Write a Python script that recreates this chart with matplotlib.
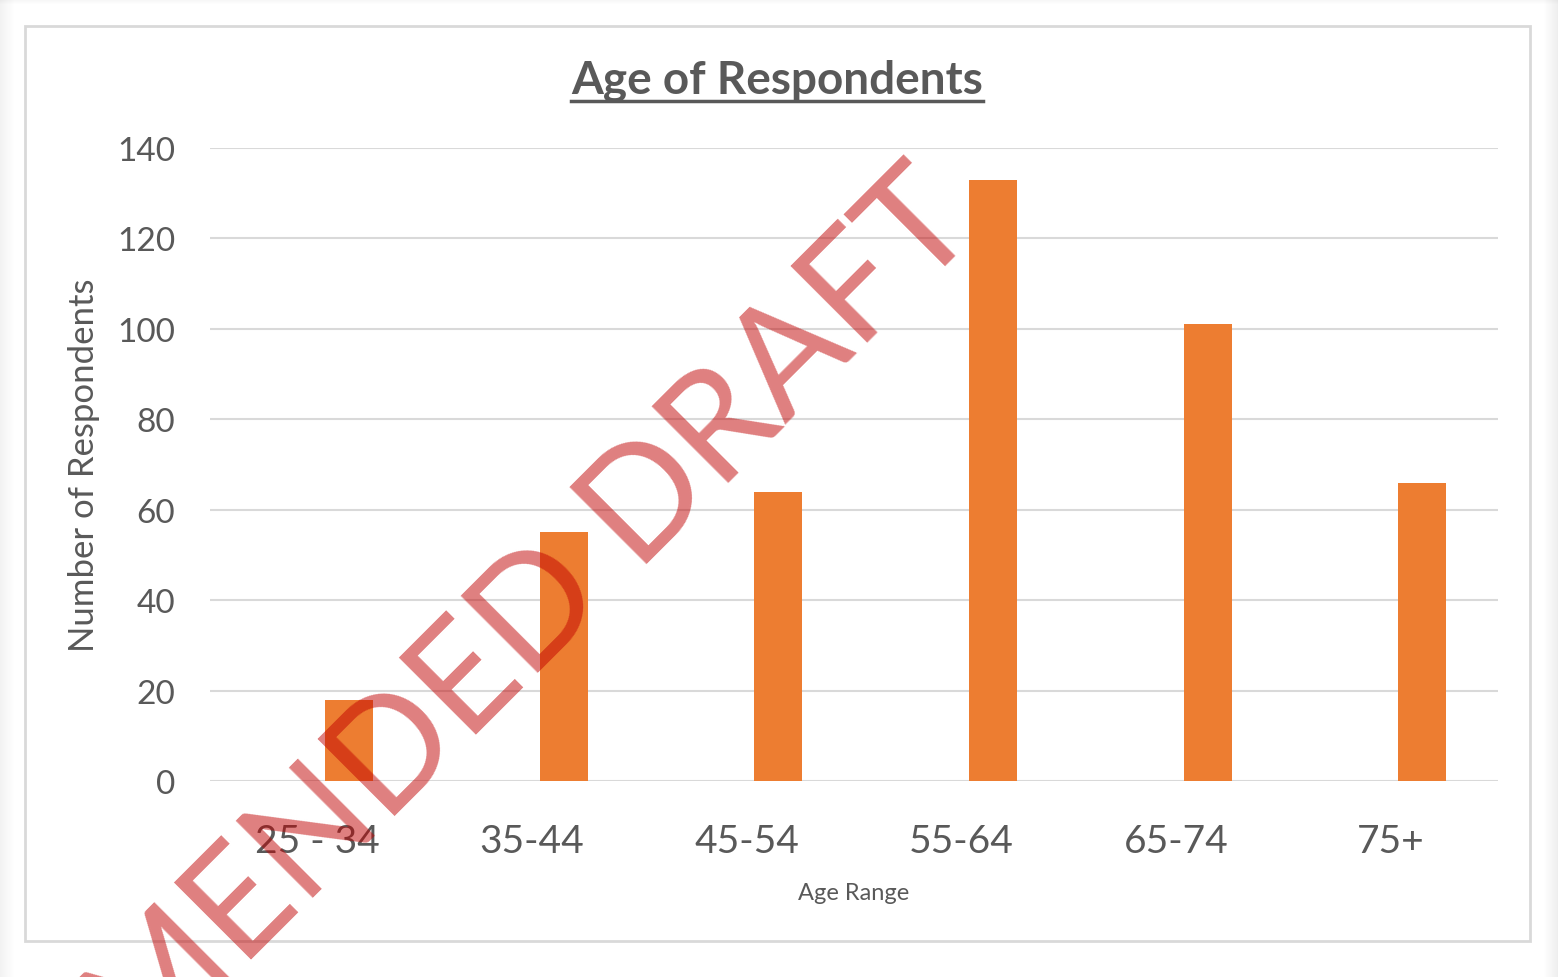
import matplotlib
matplotlib.use("Agg")
import matplotlib.pyplot as plt
from matplotlib.patches import Rectangle

categories = ["25 - 34", "35-44", "45-54", "55-64", "65-74", "75+"]
respondents = [18, 55, 64, 133, 101, 66]
y_ticks = [0, 20, 40, 60, 80, 100, 120, 140]

plt.rcParams['font.family'] = ['Lato', 'DejaVu Sans']
text_color = "#595959"
bar_color = "#ED7D31"
W, H = 1558, 978

fig = plt.figure(figsize=(W / 100, H / 100), dpi=100)
fig.patch.set_facecolor("white")

# page shadow on the edges
n = 14
for i in range(n):
    a = 0.05 * (n - i) / n
    fig.patches.append(Rectangle((i / W, 0), 1 / W, 1, transform=fig.transFigure,
                                 facecolor="black", alpha=a, edgecolor="none", zorder=0))
    fig.patches.append(Rectangle((1 - (i + 1) / W, 0), 1 / W, 1, transform=fig.transFigure,
                                 facecolor="black", alpha=a * 1.3, edgecolor="none", zorder=0))
for i in range(5):
    a = 0.04 * (5 - i) / 5
    fig.patches.append(Rectangle((0, 1 - (i + 1) / H), 1, 1 / H, transform=fig.transFigure,
                                 facecolor="black", alpha=a, edgecolor="none", zorder=0))
# chart border
fig.patches.append(Rectangle((25 / W, 1 - 942 / H), (1530 - 25) / W, (942 - 27) / H,
                             transform=fig.transFigure, facecolor="none", edgecolor="#d9d9d9",
                             linewidth=2, zorder=1))

ax = fig.add_axes([210 / W, 1 - 782 / H, (1498 - 210) / W, (782 - 149) / H])
x = list(range(len(categories)))
ax.bar([i + 0.036 for i in x], respondents, width=0.224, align="edge", color=bar_color, zorder=3)

ax.set_xlim(-0.5, len(categories) - 0.5)
ax.set_ylim(0, 140)
ax.set_yticks(y_ticks)
ax.set_xticks(x)
ax.set_xticklabels(categories)
ax.grid(axis="y", color="#d9d9d9", linewidth=1.5, zorder=0)
for s in ax.spines.values():
    s.set_visible(False)
ax.tick_params(axis="both", length=0, colors=text_color)
ax.tick_params(axis="y", labelsize=24, pad=25)
ax.tick_params(axis="x", labelsize=28, pad=30)

ax.set_ylabel("Number of Respondents", fontsize=25, color=text_color)
ax.yaxis.set_label_coords((100 - 210) / 1288, 0.5)
ax.set_xlabel("Age Range", fontsize=17, color=text_color, labelpad=17)

# title, centred over the chart frame and underlined
title = fig.text(777 / W, 1 - 81 / H, "Age of Respondents", fontsize=33, fontweight="bold",
                 color=text_color, ha="center", va="center")
fig.canvas.draw()
bb = title.get_window_extent()
inv = fig.transFigure.inverted()
(x0, y0), (x1, y1) = inv.transform([(bb.x0, bb.y0), (bb.x1, bb.y1)])
fig.add_artist(plt.Line2D([x0, x1], [y0, y0], transform=fig.transFigure,
                          color=text_color, linewidth=2.5))

# watermark
fig.text(982 / W, 1 - 228 / H, "AMENDED DRAFT", fontsize=109, color="#C00000", alpha=0.5,
         rotation=45, ha="right", va="baseline", rotation_mode="anchor", zorder=10)

fig.savefig("out.png", dpi=100)
